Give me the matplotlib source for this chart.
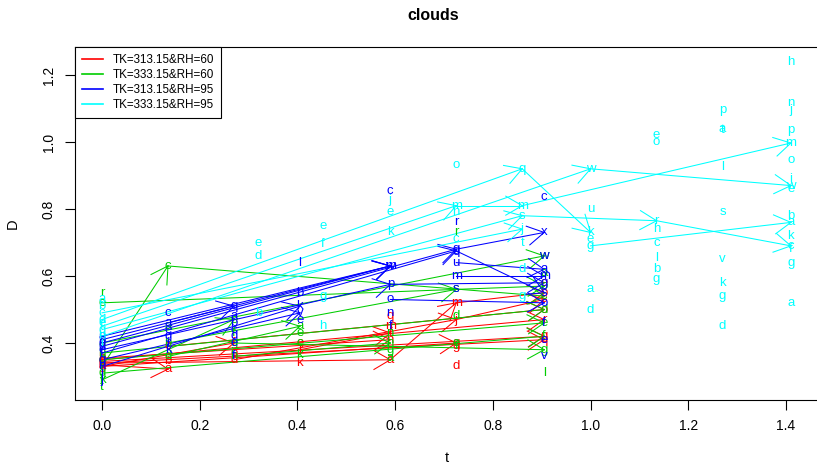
# clouds: D against t, one letter per sample, arrows between observations
import numpy as np
import matplotlib
matplotlib.use('Agg')
import matplotlib.pyplot as plt

plt.rcParams['font.family'] = ['Liberation Sans', 'DejaVu Sans']

groups = ['TK=313.15&RH=60', 'TK=333.15&RH=60', 'TK=313.15&RH=95', 'TK=333.15&RH=95']
colors = ['#FF0000', '#00CD00', '#0000FF', '#00FFFF']

# --- TK=313.15 & RH=60 (red)
red_lab = list('abcdefgh') + list('abc') + list('def') + list('kre') + list('anfmq') + list('dgqjm') + list('qgrospe')
red_t = [0]*8 + [0.135]*3 + [0.27]*3 + [0.405]*3 + [0.59]*5 + [0.725]*5 + [0.905]*7
red_D = [0.33, 0.335, 0.34, 0.345, 0.35, 0.34, 0.33, 0.355,
         0.322, 0.345, 0.39,
         0.35, 0.37, 0.40,
         0.34, 0.38, 0.40,
         0.35, 0.41, 0.43, 0.45, 0.48,
         0.33, 0.39, 0.40, 0.47, 0.52,
         0.41, 0.42, 0.47, 0.50, 0.53, 0.55, 0.58]
red_arrows = [('c', 0, 'q', 0.905), ('d', 0, 'g', 0.905), ('e', 0, 'r', 0.905),
              ('f', 0, 'a', 0.59), ('g', 0, 'q', 0.725), ('h', 0, 'n', 0.59),
              ('b', 0, 'a', 0.135), ('a', 0, 'f', 0.27), ('a', 0.59, 'm', 0.725),
              ('m', 0.725, 'p', 0.905), ('j', 0.725, 's', 0.905), ('r', 0.405, 'f', 0.59),
              ('c', 0.135, 'o', 0.905), ('d', 0.27, 'j', 0.725)]

# --- TK=333.15 & RH=60 (green)
green_lab = list('reabdfgkt') + list('cabd') + list('efgh') + list('aeck') + list('hnga') + list('rsdef') + list('wabcdefgl')
green_t = [0]*9 + [0.135]*4 + [0.27]*4 + [0.405]*4 + [0.59]*4 + [0.725]*5 + [0.905]*9
green_D = [0.55, 0.52, 0.40, 0.37, 0.35, 0.33, 0.31, 0.29, 0.27,
           0.63, 0.45, 0.40, 0.36,
           0.47, 0.43, 0.40, 0.36,
           0.45, 0.43, 0.40, 0.365,
           0.40, 0.43, 0.38, 0.355,
           0.73, 0.56, 0.48, 0.40, 0.39,
           0.66, 0.61, 0.57, 0.54, 0.50, 0.46, 0.42, 0.38, 0.31]
green_arrows = [('f', 0, 'c', 0.135), ('c', 0.135, 'c', 0.905), ('a', 0, 'w', 0.905),
                ('b', 0, 'd', 0.905), ('d', 0, 'e', 0.905), ('g', 0, 'f', 0.905),
                ('k', 0, 'e', 0.27), ('d', 0.135, 'a', 0.405), ('b', 0.135, 's', 0.725),
                ('h', 0.27, 'h', 0.59), ('g', 0.27, 'g', 0.905), ('e', 0, 'b', 0.905)]

# --- TK=313.15 & RH=95 (blue)
blue_lab = list('abcdefghij') + list('caegik') + list('qabcdef') + list('lbkve') + list('cmwponf') + list('rgqums') + list('cxwamgsofev')
blue_t = [0]*10 + [0.135]*6 + [0.27]*7 + [0.405]*5 + [0.59]*7 + [0.725]*6 + [0.905]*11
blue_D = [0.42, 0.41, 0.40, 0.39, 0.38, 0.37, 0.35, 0.33, 0.31, 0.29,
          0.49, 0.46, 0.44, 0.42, 0.40, 0.38,
          0.51, 0.48, 0.46, 0.44, 0.42, 0.40, 0.36,
          0.64, 0.55, 0.51, 0.49, 0.47,
          0.855, 0.63, 0.63, 0.575, 0.53, 0.49, 0.45,
          0.76, 0.68, 0.675, 0.64, 0.60, 0.56,
          0.835, 0.73, 0.66, 0.62, 0.60, 0.58, 0.55, 0.52, 0.46, 0.41, 0.36]
blue_arrows = [('a', 0, 'm', 0.59), ('b', 0, 'w', 0.59), ('c', 0, 'm', 0.59),
               ('d', 0, 'g', 0.725), ('e', 0, 'p', 0.59), ('f', 0, 'q', 0.725),
               ('g', 0, 'v', 0.405), ('h', 0, 'k', 0.405), ('a', 0.135, 'q', 0.27),
               ('g', 0.725, 'x', 0.905), ('q', 0.725, 's', 0.905), ('p', 0.59, 'g', 0.905),
               ('m', 0.725, 'm', 0.905), ('u', 0.725, 'a', 0.905), ('o', 0.59, 'o', 0.905)]

# --- TK=333.15 & RH=95 (cyan)
cyan_lab = (list('abcdefghi') + list('edb') + list('efgh') + list('jek') + list('omnc') + list('qmsjtdg')
            + list('wukegad') + list('eorhclbg') + list('patlsvkgd') + list('hnjpmoiwebakcfga'))
cyan_t = ([0]*9 + [0.32]*3 + [0.452]*4 + [0.59]*3 + [0.725]*4 + [0.86]*7
          + [1.0]*7 + [1.135]*8 + [1.27]*9 + [1.41]*16)
cyan_D = [0.53, 0.51, 0.49, 0.47, 0.46, 0.45, 0.44, 0.42, 0.40,
          0.70, 0.66, 0.49,
          0.75, 0.695, 0.54, 0.45,
          0.826, 0.79, 0.73,
          0.93, 0.81, 0.79, 0.71,
          0.92, 0.81, 0.78, 0.74, 0.70, 0.62, 0.54,
          0.92, 0.80, 0.73, 0.71, 0.69, 0.56, 0.50,
          1.02, 1.00, 0.765, 0.74, 0.70, 0.655, 0.62, 0.59,
          1.095, 1.04, 1.035, 0.925, 0.79, 0.65, 0.58, 0.54, 0.45,
          1.24, 1.115, 1.095, 1.035, 0.997, 0.946, 0.89, 0.87, 0.86, 0.78, 0.76, 0.72, 0.69, 0.68, 0.64, 0.52]
cyan_arrows = [('d', 0, 'q', 0.86), ('f', 0, 'm', 0.725), ('m', 0.725, 'm', 0.86),
               ('g', 0, 's', 0.86), ('h', 0, 'w', 1.0), ('c', 0, 'j', 0.86),
               ('q', 0.86, 'k', 1.0), ('w', 1.0, 'w', 1.41), ('s', 0.86, 'r', 1.135),
               ('r', 1.135, 'c', 1.41), ('g', 1.0, 'a', 1.41), ('m', 0.86, 'm', 1.41)]

data = [(red_lab, red_t, red_D, red_arrows),
        (green_lab, green_t, green_D, green_arrows),
        (blue_lab, blue_t, blue_D, blue_arrows),
        (cyan_lab, cyan_t, cyan_D, cyan_arrows)]

fig = plt.figure(figsize=(8.17, 4.69), dpi=100)
ax = fig.add_axes([75/817, 1 - 400/469, 743/817, 353/469])
ax.set_xlim(-0.0553, 1.4654)
ax.set_ylim(0.2299, 1.2836)


def arrow(x0, y0, x1, y1, col, L=19, ang=30):
    ax.plot([x0, x1], [y0, y1], color=col, lw=0.75)
    p0 = ax.transData.transform((x0, y0))
    p1 = ax.transData.transform((x1, y1))
    d = p0 - p1
    n = np.hypot(*d)
    if n == 0:
        return
    u = d / n
    for a in (np.radians(ang), -np.radians(ang)):
        r = np.array([u[0]*np.cos(a) - u[1]*np.sin(a), u[0]*np.sin(a) + u[1]*np.cos(a)])
        q = ax.transData.inverted().transform(p1 + L*r)
        ax.plot([x1, q[0]], [y1, q[1]], color=col, lw=0.75)


for (lab, t, D, arrs), col in zip(data, colors):
    for s, tt, d in zip(lab, t, D):
        ax.text(tt, d, s, color=col, fontsize=9.5, ha='center', va='center')
    for a0, t0, a1, t1 in arrs:
        i = [k for k in range(len(lab)) if lab[k] == a0 and t[k] == t0][0]
        j = [k for k in range(len(lab)) if lab[k] == a1 and t[k] == t1][0]
        arrow(t[i], D[i], t[j], D[j], col)

ax.set_xticks([0.0, 0.2, 0.4, 0.6, 0.8, 1.0, 1.2, 1.4])
ax.set_xticklabels(['0.0', '0.2', '0.4', '0.6', '0.8', '1.0', '1.2', '1.4'])
ax.set_yticks([0.4, 0.6, 0.8, 1.0, 1.2])
ax.set_yticklabels(['0.4', '0.6', '0.8', '1.0', '1.2'], rotation=90, va='center')
ax.tick_params(length=7, width=0.8, labelsize=10, pad=7)
for sp in ax.spines.values():
    sp.set_linewidth(0.8)

ax.set_xlabel('t', fontsize=10.5, labelpad=13)
ax.set_ylabel('D', fontsize=10.5, labelpad=16)
fig.text(433/817, 1 - 15/469, 'clouds', fontsize=11.5, fontweight='bold', ha='center', va='center')

handles = [plt.Line2D([], [], color=c, lw=1.2) for c in colors]
leg = ax.legend(handles, groups, loc='upper left', bbox_to_anchor=(0, 1), borderaxespad=0,
                fontsize=8.4, handlelength=1.8, handletextpad=0.8, borderpad=0.6,
                labelspacing=0.25, fancybox=False, framealpha=1)
leg.get_frame().set_edgecolor('black')
leg.get_frame().set_linewidth(0.8)

fig.savefig('out.png', dpi=100)
